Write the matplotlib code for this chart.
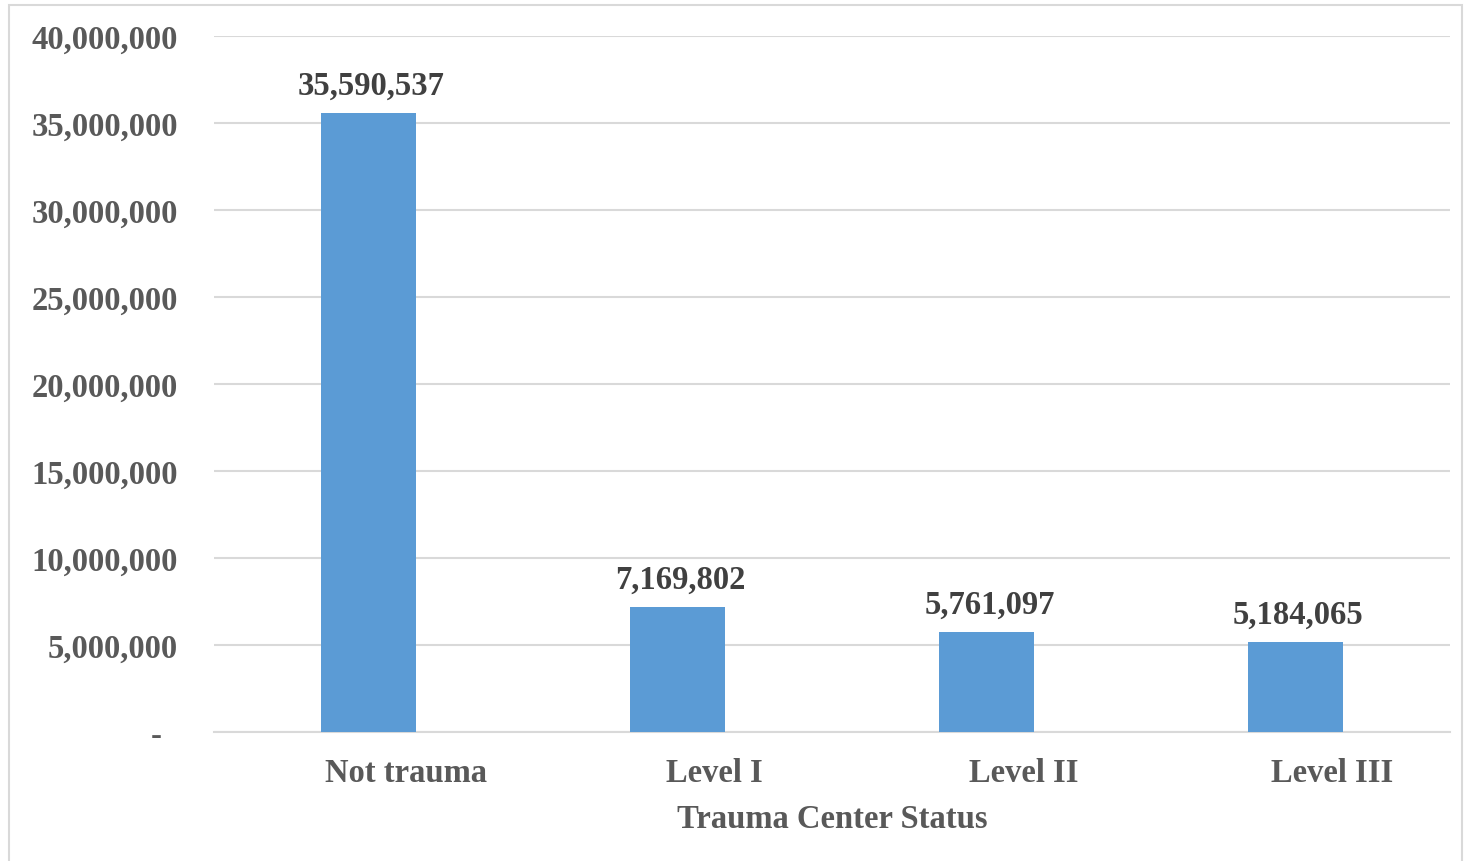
import matplotlib
matplotlib.use("Agg")
import matplotlib.pyplot as plt
from matplotlib.patches import Rectangle
from matplotlib.ticker import FuncFormatter, MultipleLocator

categories = ['Not trauma', 'Level I', 'Level II', 'Level III']
counts = [35590537, 7169802, 5761097, 5184065]
x_title = 'Trauma Center Status'

plt.rcParams['font.family'] = ['Liberation Serif', 'DejaVu Serif']
plt.rcParams['font.weight'] = 'bold'

W, H = 1464, 862
fig = plt.figure(figsize=(W / 100, H / 100), dpi=100)
ax = fig.add_axes([214 / W, 1 - 733 / H, 1236 / W, 696 / H])

# light frame round the whole chart, like the Excel chart area
fig.patches.append(Rectangle((9 / W, -0.01), (1462 - 9) / W, 1 - 6 / H + 0.01,
                             transform=fig.transFigure, fill=False,
                             edgecolor='#d9d9d9', lw=1.5))

FS = 23.5
xs = list(range(len(categories)))
ax.bar(xs, counts, width=0.31, color='#5b9bd5', zorder=3)

for x, v in zip(xs, counts):
    ax.annotate(f'{v:,}', (x, v), xytext=(3, 12), textcoords='offset pixels',
                ha='center', va='bottom', fontsize=FS, fontweight='bold',
                color='#404040')

ax.set_xlim(-0.5, 3.5)
ax.set_ylim(0, 40000000)
ax.yaxis.set_major_locator(MultipleLocator(5000000))
ax.yaxis.set_major_formatter(FuncFormatter(
    lambda v, p: '-  ' if v == 0 else f'{int(v):,}'))
ax.grid(axis='y', color='#d9d9d9', lw=1.5, zorder=0)
ax.set_axisbelow(True)

# Excel puts the category names a little right of the bars
ax.set_xticks([x + 0.12 for x in xs])
ax.set_xticklabels(categories)

ax.tick_params(axis='both', length=0, labelsize=FS, labelcolor='#595959')
ax.tick_params(axis='y', pad=26)
ax.tick_params(axis='x', pad=18)
ax.set_xlabel(x_title, fontsize=FS, fontweight='bold', color='#595959',
              labelpad=11)

for s in ['top', 'right', 'left']:
    ax.spines[s].set_visible(False)
ax.spines['bottom'].set_color('#d9d9d9')
ax.spines['bottom'].set_linewidth(1.5)

fig.savefig('out.png', dpi=100)
